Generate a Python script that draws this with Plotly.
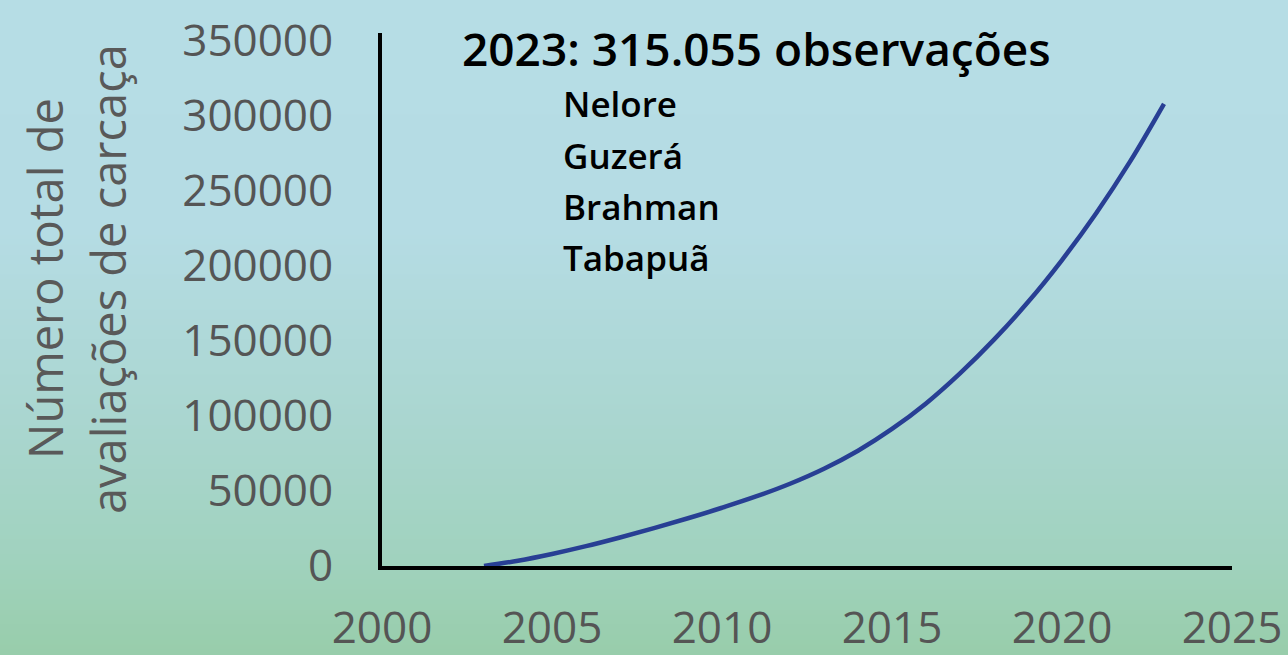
import plotly.graph_objects as go

# ---- data ----
years = list(range(2003, 2024))
avaliacoes = [0, 3500, 8000, 13200, 19000, 25200, 31800, 38800, 46300, 54800,
              64800, 76800, 91300, 108300, 128300, 150800, 175800, 203800,
              234800, 269300, 307800]
y_ticks = [0, 50000, 100000, 150000, 200000, 250000, 300000, 350000]
x_ticks = [2000, 2005, 2010, 2015, 2020, 2025]
title_text = "2023: 315.055 observações"
racas = ["Nelore", "Guzerá", "Brahman", "Tabapuã"]
ytitle_lines = ["Número total de", "avaliações de carcaça"]

# ---- geometry (pixels) ----
W, H = 1288, 655
L, R, T, B = 382, 56, 33, 89
PW, PH = W - L - R, H - T - B

def px_x(px):
    return (px - L) / PW

def px_y(py):
    return (H - B - py) / PH

FONT = "Open Sans"

fig = go.Figure()
fig.add_trace(go.Scatter(
    x=years, y=avaliacoes, mode="lines",
    line=dict(color="#283f94", width=4.5, shape="spline", smoothing=1.0),
    showlegend=False, hoverinfo="x+y",
))

# gradient background via strips
def lerp(a, b, t):
    return tuple(round(a[i] + (b[i] - a[i]) * t) for i in range(3))

stops = [(0, (182, 221, 229)), (230, (181, 220, 228)), (420, (170, 214, 208)),
         (560, (160, 210, 190)), (655, (152, 205, 170))]
shapes = []
n = 131
for i in range(n):
    y0p = i * H / n
    y1p = (i + 1) * H / n
    ym = (y0p + y1p) / 2
    for j in range(len(stops) - 1):
        if stops[j][0] <= ym <= stops[j + 1][0]:
            t = (ym - stops[j][0]) / (stops[j + 1][0] - stops[j][0])
            c = lerp(stops[j][1], stops[j + 1][1], t)
            break
    shapes.append(dict(type="rect", xref="paper", yref="paper",
                       x0=px_x(-5), x1=px_x(W + 5),
                       y0=px_y(y1p + 0.5), y1=px_y(y0p - 0.5),
                       fillcolor="rgb(%d,%d,%d)" % c, line=dict(width=0),
                       layer="below"))

annotations = []
annotations.append(dict(text=title_text, xref="paper", yref="paper",
                        x=px_x(460), y=px_y(48), xanchor="left", yanchor="middle",
                        showarrow=False,
                        font=dict(family=FONT, size=46, color="#000000", weight=600)))
for k, r in enumerate(racas):
    annotations.append(dict(text=r, xref="paper", yref="paper",
                            x=px_x(561), y=px_y(104 + k * 51.3), xanchor="left",
                            yanchor="middle", showarrow=False,
                            font=dict(family=FONT, size=35, color="#000000", weight=600)))
for k, (line, cx) in enumerate(zip(ytitle_lines, [45, 108])):
    annotations.append(dict(text=line, xref="paper", yref="paper",
                            x=px_x(cx), y=px_y(279), xanchor="center",
                            yanchor="middle", textangle=-90, showarrow=False,
                            font=dict(family=FONT, size=47, color="#595959")))

fig.update_layout(
    template="none",
    width=W, height=H,
    margin=dict(l=L, r=R, t=T, b=B, pad=0, autoexpand=False),
    paper_bgcolor="rgb(182,221,229)",
    plot_bgcolor="rgba(0,0,0,0)",
    shapes=shapes,
    annotations=annotations,
    xaxis=dict(range=[2000, 2025], tickvals=x_ticks,
               ticktext=[str(v) for v in x_ticks], automargin=False,
               showgrid=False, zeroline=False, showline=True,
               linecolor="#000000", linewidth=4, ticks="",
               ticklabelstandoff=20,
               tickfont=dict(family=FONT, size=44, color="#555555")),
    yaxis=dict(range=[0, 355000], tickvals=y_ticks,
               ticktext=[str(v) for v in y_ticks], automargin=False,
               showgrid=False, zeroline=False, showline=True,
               linecolor="#000000", linewidth=4, ticks="",
               ticklabelstandoff=36,
               tickfont=dict(family=FONT, size=44, color="#555555")),
)

fig.write_html("out.html", config={"displayModeBar": False},
               post_script="document.body.style.margin='0';document.body.style.overflow='hidden';")
